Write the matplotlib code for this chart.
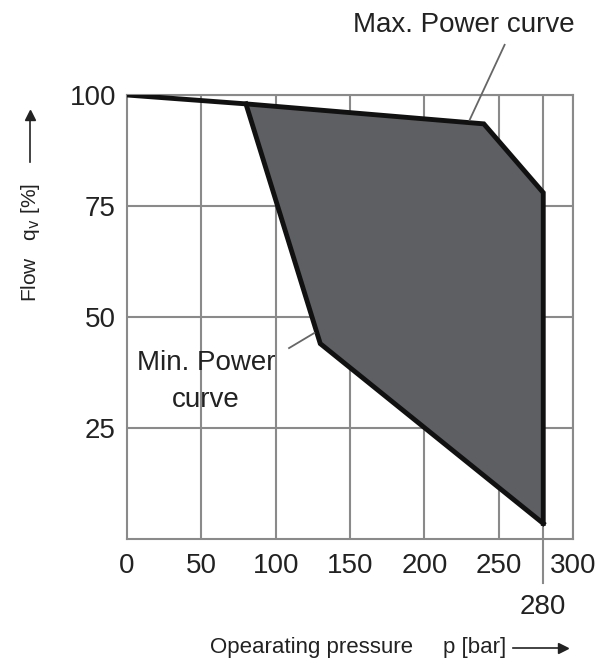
import matplotlib
matplotlib.use("Agg")
import matplotlib.pyplot as plt
from matplotlib.lines import Line2D

plt.rcParams['font.family'] = ['Liberation Sans', 'DejaVu Sans']

# Data
max_curve_x = [0, 80, 240, 280, 280]
max_curve_y = [100, 98, 93.5, 78, 3.5]
min_curve_x = [80, 130, 280]
min_curve_y = [98, 44, 3.5]
x_ticks = [0, 50, 100, 150, 200, 250, 300]
y_ticks = [25, 50, 75, 100]
extra_x = 280

fig = plt.figure(figsize=(5.98, 6.64), dpi=100)
ax = fig.add_axes([127/598, 1-539/664, (573-127)/598, (539-95)/664])
ax.set_xlim(0, 300)
ax.set_ylim(0, 100)

grid_c = '#8a8a8a'
for x in x_ticks[1:] + [extra_x]:
    ax.axvline(x, color=grid_c, lw=1.5, zorder=1)
for y in y_ticks:
    ax.axhline(y, color=grid_c, lw=1.5, zorder=1)
for s in ax.spines.values():
    s.set_color(grid_c)
    s.set_linewidth(1.5)

# shaded region
poly_x = max_curve_x[1:] + min_curve_x[::-1][1:]
poly_y = max_curve_y[1:] + min_curve_y[::-1][1:]
ax.fill(poly_x, poly_y, color='#5e5f62', zorder=2)
ax.plot(max_curve_x, max_curve_y, color='#111111', lw=3.5, zorder=3, solid_joinstyle='miter')
ax.plot(min_curve_x, min_curve_y, color='#111111', lw=3.5, zorder=3, solid_joinstyle='miter')

ax.set_xticks(x_ticks)
ax.set_yticks(y_ticks)
ax.tick_params(length=0, labelsize=20, colors='#222222')
ax.tick_params(axis='x', pad=10)
ax.tick_params(axis='y', pad=8)
ax.set_yticklabels([str(v) for v in y_ticks])

# 280 extension line and label
ax.add_line(Line2D([extra_x, extra_x], [0, -10], color=grid_c, lw=1.5, clip_on=False))
ax.text(extra_x, -12.5, '280', ha='center', va='top', fontsize=20, color='#222222')

# annotations
ax.text(301, 115.8, 'Max. Power curve', ha='right', va='center', fontsize=20, color='#222222')
ax.add_line(Line2D([230.5, 254], [94.4, 111.3], color='#666666', lw=1.3, zorder=4, clip_on=False))
ax.text(53, 35.5, 'Min. Power\ncurve', ha='center', va='center', fontsize=20,
        color='#222222', linespacing=1.55)
ax.add_line(Line2D([109, 126], [43, 46.4], color='#666666', lw=1.3, zorder=4))

# axis labels
fig.text(413/598, 1-648/664, 'Opearating pressure', ha='right', va='center',
         fontsize=16, color='#222222')
fig.text(443/598, 1-648/664, 'p [bar]', ha='left', va='center',
         fontsize=16, color='#222222')
fig.add_artist(Line2D([513/598, 562/598], [1-648/664, 1-648/664], color='#222222', lw=1.2))
fig.add_artist(Line2D([563/598], [1-648/664], marker='>', color='#222222', markersize=7))

fig.text(30/598, 1-243/664, 'Flow   q$_\\mathrm{v}$ [%]', rotation=90, ha='center', va='center',
         fontsize=15, color='#222222')
fig.add_artist(Line2D([30/598, 30/598], [1-162/664, 1-118/664], color='#222222', lw=1.2))
fig.add_artist(Line2D([30/598], [1-115/664], marker='^', color='#222222', markersize=7))

fig.savefig('out.png', dpi=100)
